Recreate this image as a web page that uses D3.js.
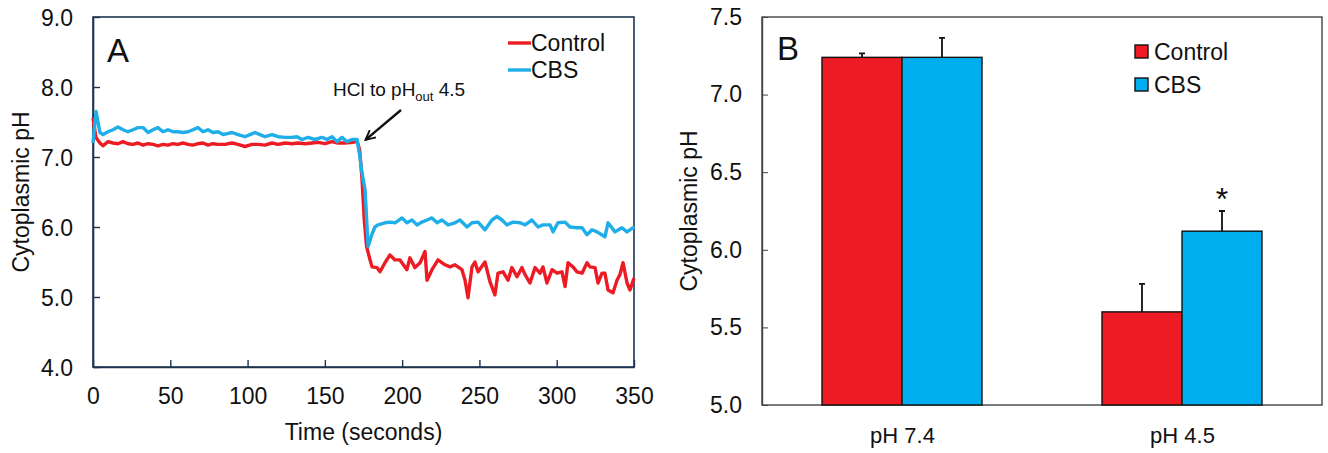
<!DOCTYPE html>
<html>
<head>
<meta charset="utf-8">
<title>Cytoplasmic pH</title>
<script src="https://d3js.org/d3.v7.min.js"></script>
<style>
  body { margin: 0; background: #fff; }
  text { font-family: "Liberation Sans", Arial, sans-serif; fill: #111; }
</style>
</head>
<body>
<script>

// ---- data: panel A, [time (s), cytoplasmic pH] ----
var controlTrace = [
  [0,7.56],[1.9,7.28],[4.5,7.20],[6.5,7.16],[9.7,7.22],[12.9,7.20],[16.2,7.19],[19.4,7.22],
  [22.6,7.19],[25.9,7.18],[29.1,7.20],[32.3,7.17],[35.6,7.19],[38.8,7.18],[42,7.16],[45.3,7.18],
  [48.5,7.17],[51.8,7.19],[55,7.18],[58.2,7.20],[61.5,7.18],[64.7,7.17],[67.9,7.19],[71.2,7.20],
  [74.4,7.17],[77.6,7.19],[80.9,7.18],[85.4,7.18],[89.9,7.20],[93.8,7.18],[98.3,7.15],[102.9,7.18],
  [106.7,7.18],[111.3,7.17],[115.8,7.20],[119.7,7.18],[124.2,7.20],[128.7,7.19],[132.6,7.20],
  [137.2,7.19],[141.7,7.20],[145.6,7.21],[150.1,7.19],[154.6,7.22],[158.5,7.20],[163,7.20],
  [167.6,7.21],[171,7.22],[172.5,7.10],[174,6.70],[175.5,6.10],[177,5.72],[179,5.55],[180.5,5.43],
  [183.7,5.42],[185.7,5.36],[188.9,5.49],[192.1,5.60],[195.4,5.53],[198.6,5.53],[203.1,5.39],
  [205,5.56],[208.3,5.42],[211.6,5.49],[214.8,5.65],[216.1,5.24],[219.3,5.39],[223.2,5.53],
  [227.7,5.46],[231,5.43],[234.2,5.46],[238.7,5.39],[240.7,5.24],[242.6,4.99],[245.2,5.43],
  [247.1,5.50],[249.1,5.36],[253.6,5.50],[256.8,5.22],[260,5.03],[262,5.34],[265.3,5.36],
  [268.5,5.24],[271,5.42],[274.3,5.29],[277.5,5.42],[279.5,5.32],[282.7,5.20],[286,5.42],
  [289.2,5.34],[291.1,5.43],[293.7,5.20],[297,5.39],[300.2,5.34],[303.4,5.36],[305.4,5.15],
  [307.3,5.49],[310.5,5.43],[313.1,5.36],[316.4,5.34],[319.6,5.49],[321.5,5.43],[324.8,5.42],
  [326.7,5.20],[329.3,5.34],[331.2,5.34],[333.2,5.10],[336.4,5.06],[339,5.24],[340.9,5.32],
  [342.9,5.49],[345.5,5.20],[347.4,5.10],[350,5.27]
];
var cbsTrace = [
  [0,7.20],[2,7.65],[4.5,7.35],[6.5,7.32],[9.7,7.36],[12.9,7.39],[16.2,7.43],[19.4,7.39],
  [22.6,7.36],[25.9,7.39],[29.1,7.42],[32.3,7.42],[35.6,7.35],[38.8,7.39],[42,7.42],[45.3,7.36],
  [48.5,7.39],[51.8,7.36],[55,7.36],[58.2,7.35],[61.5,7.36],[64.7,7.39],[67.9,7.42],[71.2,7.36],
  [74.4,7.39],[77.6,7.35],[80.9,7.36],[84.1,7.32],[89.9,7.35],[93.8,7.32],[98.3,7.29],[101.6,7.32],
  [104.8,7.35],[108,7.32],[111.3,7.29],[115.8,7.32],[119.7,7.29],[124.2,7.28],[128.7,7.28],
  [132,7.29],[135.2,7.25],[139.1,7.28],[143.6,7.25],[148.2,7.28],[151.4,7.25],[154.6,7.29],
  [157.9,7.22],[161.1,7.28],[164.3,7.22],[167.6,7.25],[170.8,7.25],[172.7,7.00],[174,6.78],
  [176,6.53],[178,5.72],[180.5,5.90],[182.4,6.00],[184.4,6.03],[188.9,6.06],[192.1,6.07],
  [195.4,6.06],[199.9,6.13],[203.1,6.06],[206.4,6.10],[209.6,6.03],[212.8,6.07],[216.1,6.10],
  [219.3,6.13],[222.6,6.06],[225.8,6.10],[229.7,6.03],[234.2,6.06],[237.4,6.10],[242,6.00],
  [245.2,6.06],[249.1,6.07],[253.6,5.96],[258.1,6.10],[261.4,6.15],[264.6,6.10],[267.8,6.03],
  [271.7,6.07],[276.3,6.06],[279.5,6.03],[284,6.10],[287.9,6.00],[291.1,6.03],[295.7,6.03],
  [297.6,5.93],[300.8,6.06],[305.4,6.07],[308.6,6.00],[313.1,5.99],[316.4,5.99],[319.6,5.89],
  [322.8,5.96],[326.1,5.93],[331.2,5.86],[333.2,6.06],[337.7,5.93],[342.2,5.99],[345.5,5.93],
  [349.4,5.99],[350,5.97]
];
var timeTicks = [0, 50, 100, 150, 200, 250, 300, 350];
var phTicksA = [4, 5, 6, 7, 8, 9];

// ---- data: panel B ----
var conditions = ["pH 7.4", "pH 4.5"];
var groups = ["Control", "CBS"];
var controlMean = [7.24, 5.60];
var controlErr = [0.025, 0.18];
var cbsMean = [7.24, 6.12];
var cbsErr = [0.125, 0.13];
var phTicksB = [5.0, 5.5, 6.0, 6.5, 7.0, 7.5];

var red = "#ED1C24", blue = "#00AEEF", blueLine = "#1FAEE8", axisA = "#1E3550";

var svg = d3.select("body").append("svg")
    .attr("width", 1328).attr("height", 453);

// ================= Panel A =================
var a = {left: 93, top: 17, right: 634, bottom: 367};
var x = d3.scaleLinear().domain([0, 350]).range([a.left, a.right]);
var y = d3.scaleLinear().domain([4, 9]).range([a.bottom, a.top]);

var gA = svg.append("g");

gA.append("rect")
    .attr("x", a.left).attr("y", a.top)
    .attr("width", a.right - a.left).attr("height", a.bottom - a.top)
    .attr("fill", "none").attr("stroke", axisA).attr("stroke-width", 1.6);

var xAxis = gA.append("g")
    .attr("transform", "translate(0," + a.bottom + ")")
    .call(d3.axisBottom(x).tickValues(timeTicks).tickFormat(d3.format("d"))
        .tickSizeInner(-7).tickSizeOuter(0).tickPadding(21));
var yAxis = gA.append("g")
    .attr("transform", "translate(" + a.left + ",0)")
    .call(d3.axisLeft(y).tickValues(phTicksA).tickFormat(d3.format(".1f"))
        .tickSizeInner(-7).tickSizeOuter(0).tickPadding(20));
[xAxis, yAxis].forEach(function(g) {
  g.select(".domain").attr("stroke", axisA).attr("stroke-width", 1.6);
  g.selectAll(".tick line").attr("stroke", axisA).attr("stroke-width", 1.4);
  g.selectAll(".tick text").style("font-size", "23px").attr("fill", "#111")
    .style("font-family", "'Liberation Sans', Arial, sans-serif");
});
xAxis.selectAll(".tick text").attr("dy", "0.71em");
yAxis.selectAll(".tick text").attr("dy", "0.36em");

var line = d3.line()
    .x(function(d) { return x(d[0]); })
    .y(function(d) { return y(d[1]); });

gA.append("path").datum(controlTrace)
    .attr("fill", "none").attr("stroke", red).attr("stroke-width", 3.4)
    .attr("stroke-linejoin", "round").attr("d", line);
gA.append("path").datum(cbsTrace)
    .attr("fill", "none").attr("stroke", blueLine).attr("stroke-width", 3.4)
    .attr("stroke-linejoin", "round").attr("d", line);

gA.append("text").attr("x", x(175)).attr("y", 440)
    .attr("text-anchor", "middle").style("font-size", "23px")
    .text("Time (seconds)");
gA.append("text")
    .attr("transform", "translate(29," + y(6.5) + ") rotate(-90)")
    .attr("text-anchor", "middle").style("font-size", "23px")
    .text("Cytoplasmic pH");

gA.append("text").attr("x", 107).attr("y", 62)
    .style("font-size", "33px").text("A");

// legend A
var legA = [{name: "Control", color: red}, {name: "CBS", color: blueLine}];
legA.forEach(function(d, i) {
  var ly = 43 + i * 27;
  gA.append("line").attr("x1", 508).attr("x2", 531).attr("y1", ly).attr("y2", ly)
      .attr("stroke", d.color).attr("stroke-width", 3.4);
  gA.append("text").attr("x", 531).attr("y", ly + 8)
      .style("font-size", "23px").text(d.name);
});

// annotation
var ann = gA.append("text").attr("x", 333).attr("y", 96).style("font-size", "19px");
ann.append("tspan").text("HCl to pH");
ann.append("tspan").attr("dy", 5).style("font-size", "13px").text("out");
ann.append("tspan").attr("dy", -5).text(" 4.5");

svg.append("defs").append("marker")
    .attr("id", "arrowhead").attr("viewBox", "0 0 10 10")
    .attr("refX", 9).attr("refY", 5)
    .attr("markerWidth", 5).attr("markerHeight", 5)
    .attr("orient", "auto")
    .append("path").attr("d", "M1,1 L9,5 L1,9").attr("fill", "none")
    .attr("stroke", "#111").attr("stroke-width", 1.6);
gA.append("line")
    .attr("x1", 401).attr("y1", 110).attr("x2", x(175) + 2).attr("y2", y(7.23) - 1)
    .attr("stroke", "#111").attr("stroke-width", 2.4)
    .attr("marker-end", "url(#arrowhead)");

// ================= Panel B =================
var b = {left: 762, top: 17, right: 1322, bottom: 405};
var xb = d3.scalePoint().domain(conditions).range([b.left, b.right]).padding(0.5);
var yb = d3.scaleLinear().domain([5, 7.5]).range([b.bottom, b.top]);
var barW = 80;

var gB = svg.append("g");

gB.append("rect")
    .attr("x", b.left).attr("y", b.top)
    .attr("width", b.right - b.left).attr("height", b.bottom - b.top)
    .attr("fill", "none").attr("stroke", "#444").attr("stroke-width", 1.4);

var yAxisB = gB.append("g")
    .attr("transform", "translate(" + b.left + ",0)")
    .call(d3.axisLeft(yb).tickValues(phTicksB).tickFormat(d3.format(".1f"))
        .tickSizeInner(-6).tickSizeOuter(0).tickPadding(20));
yAxisB.select(".domain").attr("stroke", "#444").attr("stroke-width", 1.4);
yAxisB.selectAll(".tick line").attr("stroke", "#444");
yAxisB.selectAll(".tick text").style("font-size", "23px").attr("fill", "#111")
    .style("font-family", "'Liberation Sans', Arial, sans-serif");

var xAxisB = gB.append("g")
    .attr("transform", "translate(0," + b.bottom + ")")
    .call(d3.axisBottom(xb).tickSize(0).tickPadding(22));
xAxisB.select(".domain").remove();
xAxisB.selectAll(".tick text").style("font-size", "22px").attr("fill", "#111")
    .style("font-family", "'Liberation Sans', Arial, sans-serif");

var barData = [];
conditions.forEach(function(c, i) {
  barData.push({cond: c, group: "Control", mean: controlMean[i], err: controlErr[i], color: red, off: -barW});
  barData.push({cond: c, group: "CBS", mean: cbsMean[i], err: cbsErr[i], color: blue, off: 0});
});

gB.selectAll(".err").data(barData).enter().append("path")
    .attr("class", "err")
    .attr("d", function(d) {
      var cx = xb(d.cond) + d.off + barW / 2;
      var top = yb(d.mean + d.err);
      return "M" + cx + "," + yb(d.mean) + "V" + top + "M" + (cx - 3) + "," + top + "H" + (cx + 3);
    })
    .attr("stroke", "#111").attr("stroke-width", 1.8).attr("fill", "none");

gB.selectAll(".bar").data(barData).enter().append("rect")
    .attr("class", "bar")
    .attr("x", function(d) { return xb(d.cond) + d.off; })
    .attr("y", function(d) { return yb(d.mean); })
    .attr("width", barW)
    .attr("height", function(d) { return yb(5) - yb(d.mean); })
    .attr("fill", function(d) { return d.color; })
    .attr("stroke", "#111").attr("stroke-width", 1.4);

gB.append("text")
    .attr("x", xb("pH 4.5") + barW / 2).attr("y", yb(cbsMean[1] + cbsErr[1]) - 1)
    .attr("text-anchor", "middle").style("font-size", "32px").text("*");

gB.append("text")
    .attr("transform", "translate(697," + yb(6.25) + ") rotate(-90)")
    .attr("text-anchor", "middle").style("font-size", "23px")
    .text("Cytoplasmic pH");

gB.append("text").attr("x", 777).attr("y", 60)
    .style("font-size", "33px").text("B");

// legend B
var legB = [{name: "Control", color: red}, {name: "CBS", color: blue}];
legB.forEach(function(d, i) {
  var ly = 45 + i * 33;
  gB.append("rect").attr("x", 1135).attr("y", ly).attr("width", 13).attr("height", 13)
      .attr("fill", d.color).attr("stroke", "#111").attr("stroke-width", 1.4);
  gB.append("text").attr("x", 1154).attr("y", ly + 15)
      .style("font-size", "23px").text(d.name);
});

</script>
</body>
</html>
